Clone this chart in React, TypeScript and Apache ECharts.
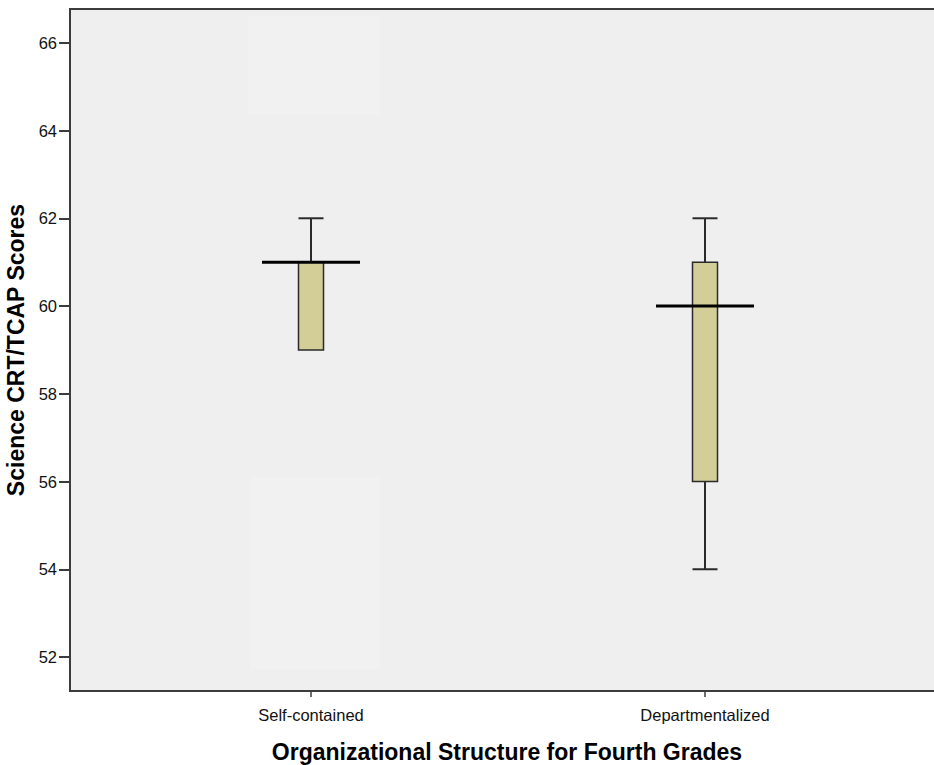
import React, { useEffect, useRef } from "react";
import * as echarts from "echarts";

const categories = ["Self-contained", "Departmentalized"];
const lowWhisker = [59, 54];
const q1Values = [59, 56];
const medians = [61, 60];
const q3Values = [61, 61];
const highWhisker = [62, 62];
const yTicks = [52, 54, 56, 58, 60, 62, 64, 66];

export default function App() {
  const ref = useRef<HTMLDivElement>(null);
  useEffect(() => {
    if (!ref.current) return;
    const chart = echarts.init(ref.current, undefined, { renderer: "svg" });
    const data = categories.map((_, i) => [
      i + 1,
      lowWhisker[i],
      q1Values[i],
      medians[i],
      q3Values[i],
      highWhisker[i],
    ]);
    const font = "'Liberation Sans', Arial, sans-serif";
    chart.setOption({
      animation: false,
      backgroundColor: "#ffffff",
      grid: {
        left: 70,
        top: 9,
        right: -10,
        bottom: 74,
        outerBoundsMode: "none",
        containLabel: false,
        show: true,
        backgroundColor: "#EFEFEF",
        borderColor: "#3c3c3c",
        borderWidth: 2,
      },
      graphic: [
        {
          type: "rect",
          silent: true,
          z: 0,
          shape: { x: 248, y: 16, width: 132, height: 99 },
          style: { fill: "#F1F1F1" },
        },
        {
          type: "rect",
          silent: true,
          z: 0,
          shape: { x: 250, y: 477, width: 130, height: 192 },
          style: { fill: "#F1F1F1" },
        },
      ],
      xAxis: {
        type: "value",
        min: 0.3883,
        max: 2.6066,
        splitLine: { show: false },
        axisLine: { show: true, lineStyle: { color: "#3c3c3c", width: 2 } },
        axisTick: {
          show: true,
          length: 6,
          lineStyle: { color: "#3c3c3c", width: 1.5 },
          customValues: [1, 2],
        },
        axisLabel: {
          customValues: [1, 2],
          formatter: (v: number) => categories[Math.round(v) - 1] ?? "",
          color: "#111",
          fontFamily: font,
          fontSize: 16.5,
          margin: 15,
        },
        name: "Organizational Structure for Fourth Grades",
        nameLocation: "middle",
        nameGap: 49,
        nameTextStyle: {
          color: "#000",
          fontFamily: font,
          fontSize: 23,
          fontWeight: "bold",
        },
      },
      yAxis: {
        type: "value",
        min: 51.225,
        max: 66.77,
        splitLine: { show: false },
        axisLine: { show: true, lineStyle: { color: "#3c3c3c", width: 2 } },
        axisTick: {
          show: true,
          length: 11,
          lineStyle: { color: "#3c3c3c", width: 2 },
          customValues: yTicks,
        },
        axisLabel: {
          customValues: yTicks,
          color: "#111",
          fontFamily: font,
          fontSize: 16.5,
          margin: 13,
        },
        name: "Science CRT/TCAP Scores",
        nameLocation: "middle",
        nameGap: 43,
        nameTextStyle: {
          color: "#000",
          fontFamily: font,
          fontSize: 23,
          fontWeight: "bold",
        },
      },
      series: [
        {
          type: "custom",
          data,
          clip: false,
          renderItem: (params: any, api: any) => {
            const x = api.value(0);
            const lo = api.coord([x, api.value(1)]);
            const q1 = api.coord([x, api.value(2)]);
            const med = api.coord([x, api.value(3)]);
            const q3 = api.coord([x, api.value(4)]);
            const hi = api.coord([x, api.value(5)]);
            const cx = lo[0];
            const bw = 25;
            const mw = 98;
            const stroke = { stroke: "#2a2a2a", lineWidth: 2 };
            const children: any[] = [];
            if (hi[1] < q3[1]) {
              children.push({
                type: "line",
                shape: { x1: cx, y1: hi[1], x2: cx, y2: q3[1] },
                style: stroke,
              });
              children.push({
                type: "line",
                shape: { x1: cx - bw / 2, y1: hi[1], x2: cx + bw / 2, y2: hi[1] },
                style: stroke,
              });
            }
            if (lo[1] > q1[1]) {
              children.push({
                type: "line",
                shape: { x1: cx, y1: q1[1], x2: cx, y2: lo[1] },
                style: stroke,
              });
              children.push({
                type: "line",
                shape: { x1: cx - bw / 2, y1: lo[1], x2: cx + bw / 2, y2: lo[1] },
                style: stroke,
              });
            }
            children.push({
              type: "rect",
              shape: { x: cx - bw / 2, y: q3[1], width: bw, height: q1[1] - q3[1] },
              style: { fill: "#D3CE97", stroke: "#2a2a2a", lineWidth: 1.5 },
            });
            children.push({
              type: "line",
              shape: { x1: cx - mw / 2, y1: med[1], x2: cx + mw / 2, y2: med[1] },
              style: { stroke: "#000", lineWidth: 3 },
            });
            return { type: "group", children };
          },
        },
      ],
    });
    return () => chart.dispose();
  }, []);
  return (
    <div
      ref={ref}
      style={{ position: "absolute", left: 0, top: 0, width: 934, height: 765 }}
    />
  );
}
